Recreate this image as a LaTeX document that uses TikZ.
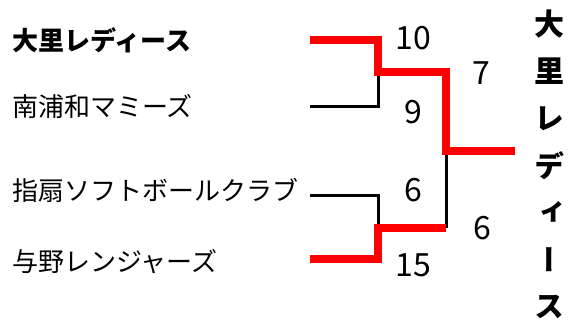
\documentclass[tikz,border=0pt]{standalone}
\usepackage{fontspec}
\newfontfamily\jpfont{Noto Sans CJK JP}
\newfontfamily\jpvfont[RawFeature=+vert]{Noto Sans CJK JP}
\begin{document}
\begin{tikzpicture}[
  x=1pt, y=-1pt,
  team/.style={anchor=west, inner sep=0pt, font=\jpfont\fontsize{26}{30}\selectfont},
  score/.style={inner sep=0pt, font=\jpfont\fontsize{32}{36}\selectfont},
  champ/.style={inner sep=0pt, font=\jpvfont\bfseries\fontsize{30}{34}\selectfont},
  lose/.style={line width=3pt, draw=black},
  win/.style={line width=8pt, draw=red, line join=miter}
]
  \useasboundingbox (0,0) rectangle (568,321);

  % Equipos
  \node[team, font=\jpfont\bfseries\fontsize{26}{30}\selectfont] (t1) at (12,40) {大里レディース};
  \node[team] (t2) at (12,107) {南浦和マミーズ};
  \node[team] (t3) at (12,190) {指扇ソフトボールクラブ};
  \node[team] (t4) at (12,262) {与野レンジャーズ};

  % Esquinas del cuadro
  \coordinate (a1) at (310,40);  \coordinate (a2) at (378,40);
  \coordinate (b1) at (310,107); \coordinate (b2) at (378,107);
  \coordinate (c1) at (310,195); \coordinate (c2) at (378,195);
  \coordinate (d1) at (310,259); \coordinate (d2) at (378,259);
  \coordinate (m1) at (378,72);  \coordinate (m1r) at (446,72);
  \coordinate (m2) at (378,228); \coordinate (m2r) at (446,228);
  \coordinate (f) at (446,151);  \coordinate (fr) at (515,151);

  % Perdedores
  \draw[lose] (b1) -- (b2) -- (m1);
  \draw[lose] (c1) -- (c2) -- (m2);
  \draw[lose] (m2r) -- (f);

  % Ganadores
  \draw[win] (a1) -- (a2) -- (m1) -- (m1r) -- (f) -- (fr);
  \draw[win] (d1) -- (d2) -- (m2) -- (m2r);

  % Resultados
  \node[score] (s1) at (413,38) {10};
  \node[score] (s2) at (413,112) {9};
  \node[score] (s3) at (413,190) {6};
  \node[score] (s4) at (413,265) {15};
  \node[score] (s5) at (481,73) {7};
  \node[score] (s6) at (482,228) {6};

  % Campeón (vertical)
  \foreach \ch [count=\i from 0] in {大,里,レ,デ,ィ,ー,ス}
    \node[champ] (w\i) at (549,24+47.2*\i) {\ch};
\end{tikzpicture}
\end{document}
